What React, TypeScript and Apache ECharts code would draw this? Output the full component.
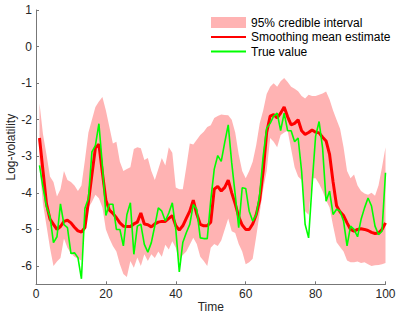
import React, { useEffect, useRef } from "react";
import * as echarts from "echarts";

const timeSteps: number[] = Array.from({ length: 100 }, (_, i) => i + 1);

const ciUpper: number[] = [
  -1.55, -2.4, -2.95, -3.55, -3.7, -4.1, -3.9, -3.4, -3.65, -3.7,
  -3.8, -3.95, -3.8, -3.1, -2.35, -2.0, -1.65, -1.5, -1.38, -1.75,
  -2.2, -2.65, -2.6, -3.15, -3.4, -3.35, -3.3, -2.8, -2.75, -2.78,
  -3.1, -3.05, -3.4, -3.65, -3.35, -3.05, -3.25, -2.75, -2.9, -3.85,
  -3.9, -3.9, -3.3, -2.65, -2.68, -2.55, -2.42, -2.33, -2.2, -2.15,
  -1.95, -1.9, -1.86, -1.87, -1.88, -2.0, -2.35, -2.95, -3.4, -3.6,
  -3.4, -3.15, -2.7, -2.1, -1.75, -1.3, -1.1, -1.0, -1.1, -0.95,
  -0.86, -0.97, -1.1, -1.15, -1.22, -1.35, -1.42, -1.32, -1.35, -1.35,
  -1.32, -1.28, -1.23, -1.45, -1.75, -2.0, -2.25, -2.75, -3.4, -3.6,
  -3.5, -3.8, -3.95, -4.02, -4.05, -4.0, -4.08, -3.8, -3.3, -2.75,
];

const ciLower: number[] = [
  -3.3, -4.3, -4.9, -5.5, -6.0, -5.88, -5.78, -5.25, -5.5, -5.65,
  -5.75, -5.8, -5.85, -4.8, -4.4, -4.25, -4.05, -4.15, -4.4, -5.0,
  -5.25, -5.45, -5.6, -5.95, -6.22, -6.3, -5.86, -6.05, -5.77, -6.0,
  -5.68, -5.86, -5.68, -5.78, -5.6, -5.75, -5.42, -5.55, -5.32, -5.5,
  -5.86, -5.7, -5.6, -5.42, -5.23, -5.4, -5.75, -5.86, -6.0, -5.5,
  -5.4, -5.45, -5.3, -5.0, -4.7, -5.05, -5.1, -5.4, -5.6, -5.95,
  -5.9, -5.8, -5.2, -4.55, -3.9, -3.4, -2.5, -2.6, -2.75, -2.42,
  -2.35, -2.3, -2.8, -3.3, -3.55, -3.65, -4.5, -4.6, -3.6, -3.6,
  -3.75, -3.95, -4.2, -4.4, -4.9, -5.35, -5.48, -5.6, -5.85, -5.9,
  -5.9, -5.88, -5.92, -5.9, -5.95, -6.0, -5.98, -5.97, -5.95, -5.92,
];

const smoothedMean: number[] = [
  -2.5, -3.4, -4.3, -4.72, -4.86, -5.0, -4.92, -4.78, -4.75, -4.82,
  -4.94, -5.04, -5.07, -4.95, -4.25, -3.5, -2.77, -2.67, -3.45, -4.2,
  -4.47, -4.56, -4.68, -4.82, -4.91, -4.92, -4.92, -4.85, -4.8, -4.55,
  -4.85, -4.87, -4.93, -4.85, -4.8, -4.78, -4.78, -4.7, -4.62, -4.9,
  -5.02, -4.9, -4.7, -4.5, -4.2, -4.58, -4.86, -4.9, -4.9, -4.8,
  -3.9, -3.82, -3.95, -3.85, -3.65, -4.0, -4.3, -4.65, -4.88, -5.0,
  -5.0, -4.85, -4.6, -4.2, -3.4, -2.35, -1.9, -1.86, -1.95, -1.82,
  -1.65, -1.92, -2.14, -2.1, -2.0, -2.3, -2.4, -2.35, -2.28, -2.34,
  -2.36, -2.48, -2.58, -2.95, -3.7, -4.35, -4.52, -4.62, -4.82, -5.0,
  -5.05, -5.0, -4.98, -5.0, -5.03, -5.08, -5.11, -5.1, -5.0, -4.82,
];

const trueValue: number[] = [
  -3.25, -3.85, -4.38, -4.65, -5.36, -5.2, -4.3, -4.87, -4.95, -5.66,
  -5.64, -5.77, -6.35, -4.42, -4.15, -2.88, -2.7, -2.11, -3.25, -4.62,
  -4.31, -4.31, -5.0, -5.0, -5.45, -4.6, -4.27, -5.68, -4.91, -4.86,
  -5.41, -5.62, -5.36, -4.9, -4.41, -4.5, -4.77, -4.55, -4.27, -5.0,
  -6.16, -5.36, -5.09, -4.86, -4.32, -4.45, -5.23, -5.25, -5.25, -4.2,
  -3.35, -2.98, -3.14, -2.62, -2.14, -3.18, -4.05, -4.95, -3.86, -3.88,
  -4.5, -4.77, -4.6, -4.05, -3.0, -2.23, -2.1, -1.9, -1.82, -2.3,
  -1.82, -2.3, -2.3, -2.6, -2.5, -3.41, -4.86, -5.23, -3.77, -2.45,
  -2.05, -2.77, -4.23, -3.95, -4.59, -4.45, -4.5, -4.77, -5.45, -4.91,
  -5.0, -5.2, -4.73, -4.41, -4.14, -4.36, -4.91, -5.14, -5.05, -3.45,
];

const yTicks: number[] = [-6, -5, -4, -3, -2, -1, 0, 1];

const SERIES_CI = "95% credible interval";
const SERIES_MEAN = "Smoothing mean estimate";
const SERIES_TRUE = "True value";

const FONT = "'Liberation Sans', Arial, Helvetica, sans-serif";
const TEXT = "#262626";
const AXIS = "#777777";

export default function App() {
  const ref = useRef<HTMLDivElement>(null);

  useEffect(() => {
    if (!ref.current) return;
    const chart = echarts.init(ref.current, null, { renderer: "svg" });

    const meanData = timeSteps.map((t, i) => [t, smoothedMean[i]]);
    const trueData = timeSteps.map((t, i) => [t, trueValue[i]]);

    chart.setOption({
      animation: false,
      textStyle: { fontFamily: FONT, color: TEXT },
      grid: {
        left: 36,
        top: 10,
        width: 349.5,
        height: 274.3,
        containLabel: false,
        outerBoundsMode: "none",
      },
      legend: {
        orient: "vertical",
        left: 210,
        top: 16.5,
        itemWidth: 35,
        itemHeight: 11,
        itemGap: 2.5,
        padding: 0,
        textStyle: { fontSize: 12, color: "#000", fontFamily: FONT, padding: [0, 0, 0, 0] },
        data: [
          { name: SERIES_CI, icon: "rect", itemStyle: { color: "#ffb3b3" } },
          { name: SERIES_MEAN, itemStyle: { opacity: 0 } },
          { name: SERIES_TRUE, itemStyle: { opacity: 0 } },
        ],
      },
      xAxis: {
        type: "value",
        min: 0,
        max: 100,
        interval: 20,
        name: "Time",
        nameLocation: "middle",
        nameGap: 17,
        nameMoveOverlap: false,
        nameTextStyle: { fontSize: 12, color: TEXT, fontFamily: FONT },
        splitLine: { show: false },
        axisLine: { show: true, onZero: false, lineStyle: { color: AXIS, width: 1 } },
        axisTick: { show: true, inside: true, length: 3, lineStyle: { color: AXIS } },
        axisLabel: { fontSize: 12, color: TEXT, margin: 4, fontFamily: FONT },
      },
      yAxis: {
        type: "value",
        min: -6.5,
        max: 1,
        name: "Log-volatility",
        nameLocation: "middle",
        nameRotate: 90,
        nameGap: 19,
        nameMoveOverlap: false,
        nameTextStyle: { fontSize: 12, color: TEXT, fontFamily: FONT },
        splitLine: { show: false },
        axisLine: { show: true, onZero: false, lineStyle: { color: AXIS, width: 1 } },
        axisTick: { show: true, inside: true, length: 3, lineStyle: { color: AXIS }, customValues: yTicks },
        axisLabel: { fontSize: 12, color: TEXT, margin: 4, fontFamily: FONT, customValues: yTicks },
      },
      series: [
        {
          type: "custom",
          name: SERIES_CI,
          itemStyle: { color: "#ffb3b3" },
          data: [[0, 0]],
          encode: { x: 0, y: 1 },
          z: 1,
          renderItem: (params: any, api: any) => {
            if (params.dataIndex !== 0) return null;
            const pts: number[][] = [];
            for (let i = 0; i < timeSteps.length; i++) {
              pts.push(api.coord([timeSteps[i], ciUpper[i]]));
            }
            for (let i = timeSteps.length - 1; i >= 0; i--) {
              pts.push(api.coord([timeSteps[i], ciLower[i]]));
            }
            return {
              type: "polygon",
              shape: { points: pts },
              style: { fill: "#ffb3b3", stroke: "none" },
            };
          },
        },
        {
          type: "line",
          name: SERIES_MEAN,
          data: meanData,
          symbol: "none",
          showSymbol: false,
          z: 3,
          itemStyle: { color: "#ff0000" },
          lineStyle: { color: "#ff0000", width: 3 },
        },
        {
          type: "line",
          name: SERIES_TRUE,
          data: trueData,
          symbol: "none",
          showSymbol: false,
          z: 4,
          itemStyle: { color: "#00ff00" },
          lineStyle: { color: "#00ff00", width: 1.6 },
        },
      ],
    });

    return () => {
      chart.dispose();
    };
  }, []);

  return (
    <div
      ref={ref}
      style={{ position: "fixed", left: 0, top: 0, width: 399, height: 317, background: "#fff" }}
    />
  );
}
